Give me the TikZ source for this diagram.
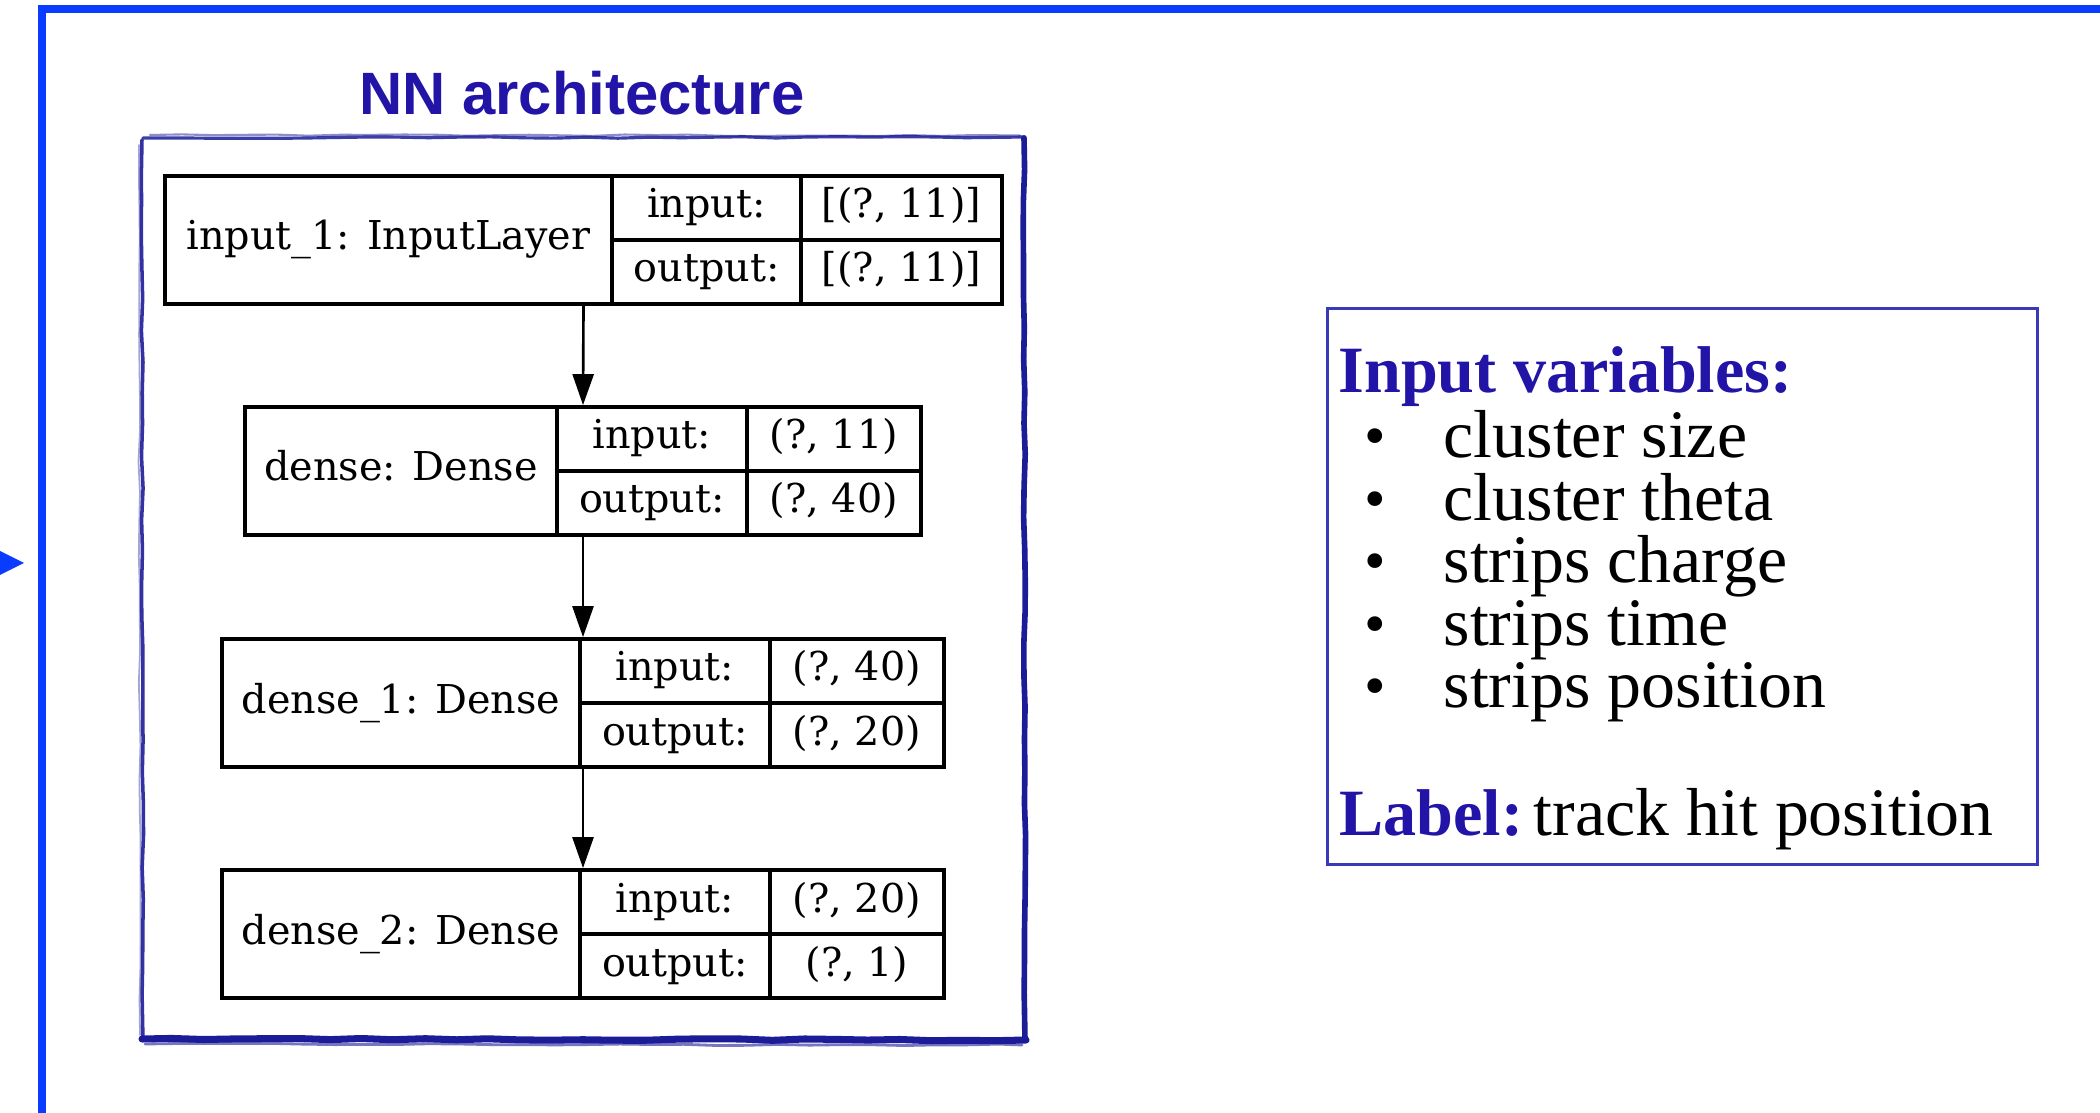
\documentclass[tikz,border=0pt]{standalone}
\usepackage{fontspec}
\usetikzlibrary{arrows.meta,decorations.pathmorphing}
\newfontfamily\layerfont{DejaVu Serif}
\newfontfamily\titlefont{Liberation Sans}
\newfontfamily\notefont{Liberation Serif}
\definecolor{framebl}{HTML}{0A3CFF}
\definecolor{inkblue}{HTML}{2214A6}
\definecolor{sketchblue}{HTML}{1C1C98}
\definecolor{boxblue}{HTML}{3A3AB8}

\tikzset{
  layerbox/.style={draw=black, line width=1.05pt, inner sep=0pt},
  cellrule/.style={draw=black, line width=1.05pt},
  celltext/.style={font=\layerfont\fontsize{11.3}{13}\selectfont, anchor=base, inner sep=0pt},
  flow/.style={draw=black, line width=0.75pt, -{Triangle[length=0.31cm, width=0.21cm]}},
  sketch/.style={draw=sketchblue, line cap=round, line join=round,
    decorate, decoration={random steps, segment length=9pt, amplitude=0.25pt}},
  notetext/.style={font=\notefont\fontsize{19.3}{23}\selectfont, anchor=base west, inner sep=0pt},
  notehead/.style={font=\notefont\bfseries\fontsize{18.8}{23}\selectfont, text=inkblue, anchor=base west, inner sep=0pt},
  bulletmark/.style={font=\notefont\fontsize{17.5}{20}\selectfont, anchor=base, inner sep=0pt},
}

% one Keras layer record: name, centre x, top y, width, divider 1, divider 2, label, input, output
\newcommand{\kerasrecord}[9]{%
  \node[layerbox, minimum width=#4*0.01cm, minimum height=1.28cm] (#1) at (#2,#3+64) {};
  \draw[cellrule] (#5,#3) -- (#5,#3+128);
  \draw[cellrule] (#6,#3) -- (#6,#3+128);
  \draw[cellrule] (#5,#3+64) -- (#2+#4/2,#3+64);
  \node[celltext] (#1-name) at ({(#2-#4/2+#5)/2},#3+74) {#7};
  \node[celltext] (#1-inkey) at ({(#5+#6)/2},#3+42) {input:};
  \node[celltext] (#1-inval) at ({(#6+#2+#4/2)/2},#3+42) {#8};
  \node[celltext] (#1-outkey) at ({(#5+#6)/2},#3+106) {output:};
  \node[celltext] (#1-outval) at ({(#6+#2+#4/2)/2},#3+106) {#9};
}

\begin{document}
\begin{tikzpicture}[x=0.01cm, y=-0.01cm]
\useasboundingbox (0,0) rectangle (2100,1113);
\fill[white] (0,0) rectangle (2100,1113);

% slide frame and the incoming arrow tip on its left
\draw[framebl, line width=0.08cm, line join=miter] (2160,9) -- (42,9) -- (42,1170);
\coordinate (feed) at (24,563);
\fill[framebl] (-8,547) -- (feed) -- (-8,579) -- cycle;

% title of the network panel
\node[font=\titlefont\bfseries\fontsize{17}{20}\selectfont, text=inkblue, anchor=base, inner sep=0pt] (title) at (582,115) {NN architecture};

% hand-drawn panel border: thin brushy top and left, heavier right and bottom
\pgfmathsetseed{11}
\draw[sketch, line width=0.9pt, opacity=0.85] (143,138) -- (1025,137);
\draw[sketch, line width=0.6pt, opacity=0.5] (150,135) -- (1020,135.5);
\draw[sketch, line width=1.0pt, opacity=0.9] (142,140) -- (143,1040);
\draw[sketch, line width=0.5pt, opacity=0.4] (139,145) -- (140,1035);
\draw[sketch, line width=1.6pt] (1024,138) -- (1025,1040);
\draw[sketch, line width=2.0pt] (1026,1040) -- (142,1039);
\draw[sketch, line width=0.8pt, opacity=0.6] (145,1044) -- (1022,1045);

% layer records
\kerasrecord{L0}{583.5}{176}{837}{612}{801}{input\_1: InputLayer}{[(?, 11)]}{[(?, 11)]}
\kerasrecord{L1}{583}{407}{676}{557}{747}{dense: Dense}{(?, 11)}{(?, 40)}
\kerasrecord{L2}{583}{639}{722}{580}{770}{dense\_1: Dense}{(?, 40)}{(?, 20)}
\kerasrecord{L3}{583}{870}{722}{580}{770}{dense\_2: Dense}{(?, 20)}{(?, 1)}

\draw[flow] (L0.south) -- (L1.north);
\draw[flow] (L1.south) -- (L2.north);
\draw[flow] (L2.south) -- (L3.north);

% variables box
\node[draw=boxblue, line width=0.9pt, minimum width=7.09cm, minimum height=5.55cm, inner sep=0pt] (vars) at (1682.5,586.5) {};
\node[notehead] (vhead) at (1338,393) {Input variables:};
\foreach \k/\txt [count=\i] in {0/cluster size, 1/cluster theta, 2/strips charge, 3/strips time, 4/strips position}{
  \node[bulletmark] (b\i) at (1375,457+62.5*\k) {•};
  \node[notetext] (v\i) at (1443,458+62.5*\k) {\txt};
}
\node[notehead] (labkey) at (1339,835) {Label:};
\node[notetext] (labval) at (1533,835) {track hit position};
\end{tikzpicture}
\end{document}
